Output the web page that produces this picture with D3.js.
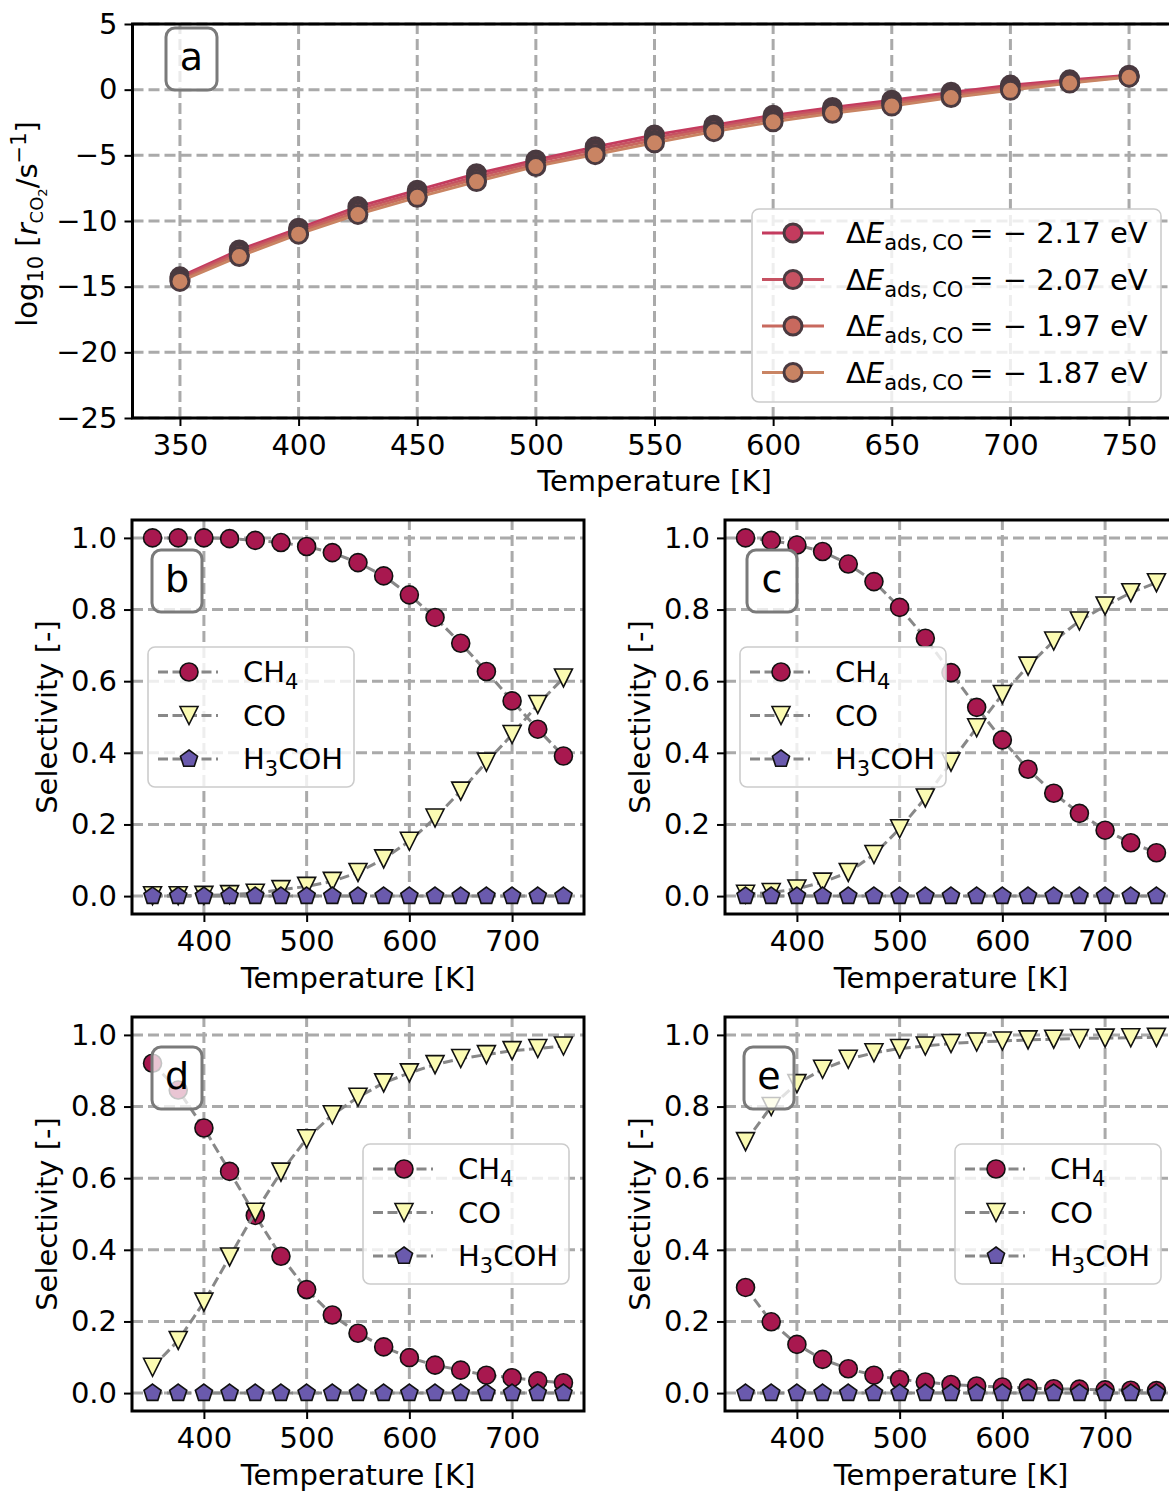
<!DOCTYPE html>
<html><head><meta charset="utf-8">
<script src="https://cdn.jsdelivr.net/npm/d3@7"></script>
<style>body{margin:0;background:#fff}svg{display:block}text{font-family:"DejaVu Sans",sans-serif;fill:#000}</style>
</head><body><svg id="chart" width="1169" height="1492"></svg>
<script>
// ---------- DATA ----------
const temps = [350,375,400,425,450,475,500,525,550,575,600,625,650,675,700,725,750];
const tempTicksA = [350,400,450,500,550,600,650,700,750];
const rateTicks = [-25,-20,-15,-10,-5,0,5];
const tempTicksSel = [400,500,600,700];
const selTicks = [0.0,0.2,0.4,0.6,0.8,1.0];

const energyLabels = ["2.17","2.07","1.97","1.87"];
const rate217 = [-14.25,-12.2,-10.55,-8.9,-7.65,-6.4,-5.35,-4.35,-3.45,-2.7,-1.95,-1.35,-0.8,-0.2,0.35,0.75,1.1];
const rate207 = [-14.35,-12.35,-10.7,-9.1,-7.85,-6.6,-5.5,-4.55,-3.65,-2.85,-2.1,-1.5,-0.95,-0.35,0.2,0.65,1.05];
const rate197 = [-14.5,-12.5,-10.85,-9.3,-8.0,-6.8,-5.7,-4.75,-3.85,-3.0,-2.25,-1.65,-1.1,-0.45,0.05,0.55,1.0];
const rate187 = [-14.6,-12.7,-11.0,-9.5,-8.2,-7.0,-5.85,-4.95,-4.05,-3.2,-2.45,-1.8,-1.25,-0.6,-0.05,0.5,0.95];

const speciesLabels = ["CH4","CO","H3COH"];
const ch4B = [1.0,1.0,1.0,0.998,0.993,0.987,0.976,0.959,0.931,0.894,0.841,0.778,0.706,0.627,0.545,0.466,0.391];
const coB  = [0.001,0.001,0.002,0.004,0.008,0.018,0.027,0.041,0.066,0.104,0.153,0.218,0.293,0.374,0.451,0.535,0.609];
const meohB = [0,0,0,0,0,0,0,0,0,0,0,0,0,0,0,0,0];
const ch4C = [1.0,0.993,0.980,0.962,0.927,0.878,0.806,0.720,0.624,0.527,0.436,0.354,0.287,0.231,0.184,0.149,0.121];
const coC  = [0.005,0.010,0.020,0.039,0.066,0.116,0.188,0.274,0.374,0.470,0.563,0.642,0.712,0.768,0.810,0.847,0.875];
const meohC = [0,0,0,0,0,0,0,0,0,0,0,0,0,0,0,0,0];
const ch4D = [0.921,0.846,0.740,0.619,0.496,0.382,0.289,0.218,0.167,0.129,0.099,0.078,0.064,0.050,0.043,0.034,0.029];
const coD  = [0.072,0.147,0.254,0.380,0.505,0.617,0.710,0.777,0.826,0.866,0.894,0.917,0.934,0.945,0.956,0.962,0.969];
const meohD = [0,0,0,0,0,0,0,0,0,0,0,0,0,0,0,0,0];
const ch4E = [0.295,0.199,0.136,0.094,0.068,0.050,0.038,0.031,0.024,0.020,0.017,0.014,0.012,0.011,0.009,0.008,0.007];
const coE  = [0.702,0.800,0.864,0.904,0.932,0.950,0.962,0.969,0.976,0.980,0.983,0.986,0.988,0.990,0.991,0.992,0.993];
const meohE = [0,0,0,0,0,0,0,0,0,0,0,0,0,0,0,0,0];

// ---------- STYLE ----------
const FONT = 29;
const rateColors = ["#c43b5e","#c65262","#c8695e","#c98463"];
const speciesFill = ["#a8184f","#fbfbb2","#6a5aad"];
const svg = d3.select("#chart");

function rich(t, segs){
  let cur = 0;
  segs.forEach(s=>{
    const sh = s.shift||0;
    t.append("tspan").attr("dy", cur - sh).attr("font-size", s.fs||FONT)
      .attr("font-style", s.it?"italic":null).text(s.t);
    cur = sh;
  });
}

function markerPath(kind, r){
  if(kind==="tri") return `M${-r},${-r}L${r},${-r}L0,${r}Z`;
  if(kind==="pent"){
    const pts = d3.range(5).map(k=>{const a=(-90+72*k)*Math.PI/180; return [r*Math.cos(a), r*Math.sin(a)];});
    return "M"+pts.map(p=>p.join(",")).join("L")+"Z";
  }
  return d3.symbol(d3.symbolCircle, Math.PI*r*r)();
}

function frame(g, x, y, xt, yt, yfmt){
  const [x0,x1] = x.range(), [y0,y1] = y.range();
  const grid = g.append("g").attr("stroke","#aaaaaa").attr("stroke-width",3).attr("stroke-dasharray","11,5");
  xt.forEach(v=>grid.append("line").attr("x1",x(v)).attr("x2",x(v)).attr("y1",y0).attr("y2",y1));
  yt.forEach(v=>grid.append("line").attr("x1",x0).attr("x2",x1).attr("y1",y(v)).attr("y2",y(v)));
  const ax = g.append("g").attr("transform",`translate(0,${y0})`)
    .call(d3.axisBottom(x).tickValues(xt).tickSize(8).tickPadding(8).tickFormat(d3.format("d")));
  const ay = g.append("g").attr("transform",`translate(${x0},0)`)
    .call(d3.axisLeft(y).tickValues(yt).tickSize(8).tickPadding(7).tickFormat(v=>yfmt(v).replace("-","\u2212")));
  [ax,ay].forEach(a=>{
    a.select(".domain").remove();
    a.selectAll(".tick line").attr("stroke","#000").attr("stroke-width",2);
    a.selectAll(".tick text").attr("font-size",FONT).attr("font-family","DejaVu Sans").attr("fill","#000");
  });
}

function spines(g, x, y){
  const [x0,x1] = x.range(), [y0,y1] = y.range();
  g.append("rect").attr("x",x0).attr("y",y1).attr("width",x1-x0).attr("height",y0-y1)
    .attr("fill","none").attr("stroke","#000").attr("stroke-width",3);
}

function labelBox(g, bx, by, w, h, letter){
  g.append("rect").attr("x",bx).attr("y",by).attr("width",w).attr("height",h).attr("rx",9)
    .attr("fill","#fff").attr("fill-opacity",0.75).attr("stroke","#7a7a7a").attr("stroke-width",3);
  g.append("text").attr("x",bx+w/2).attr("y",by+42).attr("text-anchor","middle").attr("font-size",38).text(letter);
}

// ---------- PANEL A ----------
{
  const x = d3.scaleLinear([330,770],[132.5,1176.5]);
  const y = d3.scaleLinear([-25,5],[418,24]);
  const g = svg.append("g");
  frame(g, x, y, tempTicksA, rateTicks, d3.format("d"));
  const series = [rate217, rate207, rate197, rate187];
  const line = d3.line().x((d,i)=>x(temps[i])).y(d=>y(d));
  series.forEach((s,k)=>{
    g.append("path").attr("d",line(s)).attr("fill","none").attr("stroke",rateColors[k]).attr("stroke-width",2.8);
    g.selectAll(null).data(s).join("circle").attr("cx",(d,i)=>x(temps[i])).attr("cy",d=>y(d)).attr("r",9)
      .attr("fill",rateColors[k]).attr("stroke","#4a3a40").attr("stroke-width",3);
  });
  labelBox(g, 166, 28, 51, 62, "a");
  const L = g.append("g");
  const bx=752, by=209;
  L.append("rect").attr("x",bx).attr("y",by).attr("width",409).attr("height",193).attr("rx",7)
    .attr("fill","#fff").attr("fill-opacity",0.8).attr("stroke","#cccccc").attr("stroke-width",1.6);
  energyLabels.forEach((lab,k)=>{
    const ry = by+24+k*46.5;
    L.append("line").attr("x1",bx+10).attr("x2",bx+72).attr("y1",ry).attr("y2",ry).attr("stroke",rateColors[k]).attr("stroke-width",2.8);
    L.append("circle").attr("cx",bx+41).attr("cy",ry).attr("r",9).attr("fill",rateColors[k]).attr("stroke","#4a3a40").attr("stroke-width",3);
    const t = L.append("text").attr("x",bx+94).attr("y",ry+10);
    rich(t,[{t:"Δ"},{t:"E",it:true},{t:"ads,\u2009CO",fs:21,shift:-7},{t:"\u2009= \u2212 "+lab+" eV",shift:0}]);
  });
  g.append("text").attr("x",(132.5+1176.5)/2).attr("y",491).attr("text-anchor","middle").attr("font-size",FONT).text("Temperature [K]");
  const yl = g.append("text").attr("transform","translate(37,224) rotate(-90)").attr("text-anchor","middle");
  rich(yl,[{t:"log"},{t:"10",fs:21,shift:-6},{t:" [",shift:0},{t:"r",it:true},{t:"CO",fs:18,shift:-6},{t:"2",fs:13,shift:-10},{t:"/s",shift:0},{t:"\u22121",fs:21,shift:11},{t:"]",shift:0}]);
  spines(g, x, y);
}

// ---------- SELECTIVITY PANELS ----------
const panels = [
  {letter:"b", left:132, top:520, ch4:ch4B, co:coB, meoh:meohB, leg:[16,127], box:[20,30]},
  {letter:"c", left:725, top:520, ch4:ch4C, co:coC, meoh:meohC, leg:[15,127], box:[22,30]},
  {letter:"d", left:132, top:1017, ch4:ch4D, co:coD, meoh:meohD, leg:[231,127], box:[20,30]},
  {letter:"e", left:725, top:1017, ch4:ch4E, co:coE, meoh:meohE, leg:[230,127], box:[19,30]}
];
const kinds = ["circ","tri","pent"];
panels.forEach(p=>{
  const x = d3.scaleLinear([330,770],[p.left,p.left+452]);
  const y = d3.scaleLinear([-0.05,1.05],[p.top+394,p.top]);
  const g = svg.append("g");
  frame(g, x, y, tempTicksSel, selTicks, d3.format(".1f"));
  const line = d3.line().x((d,i)=>x(temps[i])).y(d=>y(d));
  [p.ch4,p.co,p.meoh].forEach((s,k)=>{
    g.append("path").attr("d",line(s)).attr("fill","none").attr("stroke","#888888").attr("stroke-width",3).attr("stroke-dasharray","10,4.5");
    g.selectAll(null).data(s).join("path").attr("d",markerPath(kinds[k],9))
      .attr("transform",(d,i)=>`translate(${x(temps[i])},${y(d)})`)
      .attr("fill",speciesFill[k]).attr("stroke","#111").attr("stroke-width",1.6);
  });
  labelBox(g, p.left+p.box[0], p.top+p.box[1], 50, 62, p.letter);
  const bx = p.left+p.leg[0], by = p.top+p.leg[1];
  g.append("rect").attr("x",bx).attr("y",by).attr("width",206).attr("height",140).attr("rx",7)
    .attr("fill","#fff").attr("fill-opacity",0.8).attr("stroke","#cccccc").attr("stroke-width",1.6);
  speciesLabels.forEach((lab,k)=>{
    const ry = by+25+k*43.5;
    g.append("line").attr("x1",bx+10).attr("x2",bx+70).attr("y1",ry).attr("y2",ry)
      .attr("stroke","#888888").attr("stroke-width",3).attr("stroke-dasharray","10,4.5");
    g.append("path").attr("d",markerPath(kinds[k],9)).attr("transform",`translate(${bx+41},${ry})`)
      .attr("fill",speciesFill[k]).attr("stroke","#111").attr("stroke-width",1.6);
    const t = g.append("text").attr("x",bx+95).attr("y",ry+10);
    if(lab==="CH4") rich(t,[{t:"CH"},{t:"4",fs:21,shift:-7}]);
    else if(lab==="H3COH") rich(t,[{t:"H"},{t:"3",fs:21,shift:-7},{t:"COH",shift:0}]);
    else rich(t,[{t:lab}]);
  });
  g.append("text").attr("x",p.left+226).attr("y",p.top+468).attr("text-anchor","middle").attr("font-size",FONT).text("Temperature [K]");
  g.append("text").attr("transform",`translate(${p.left-75},${p.top+197}) rotate(-90)`).attr("text-anchor","middle").attr("font-size",FONT).text("Selectivity [-]");
  spines(g, x, y);
});
</script></body></html>
